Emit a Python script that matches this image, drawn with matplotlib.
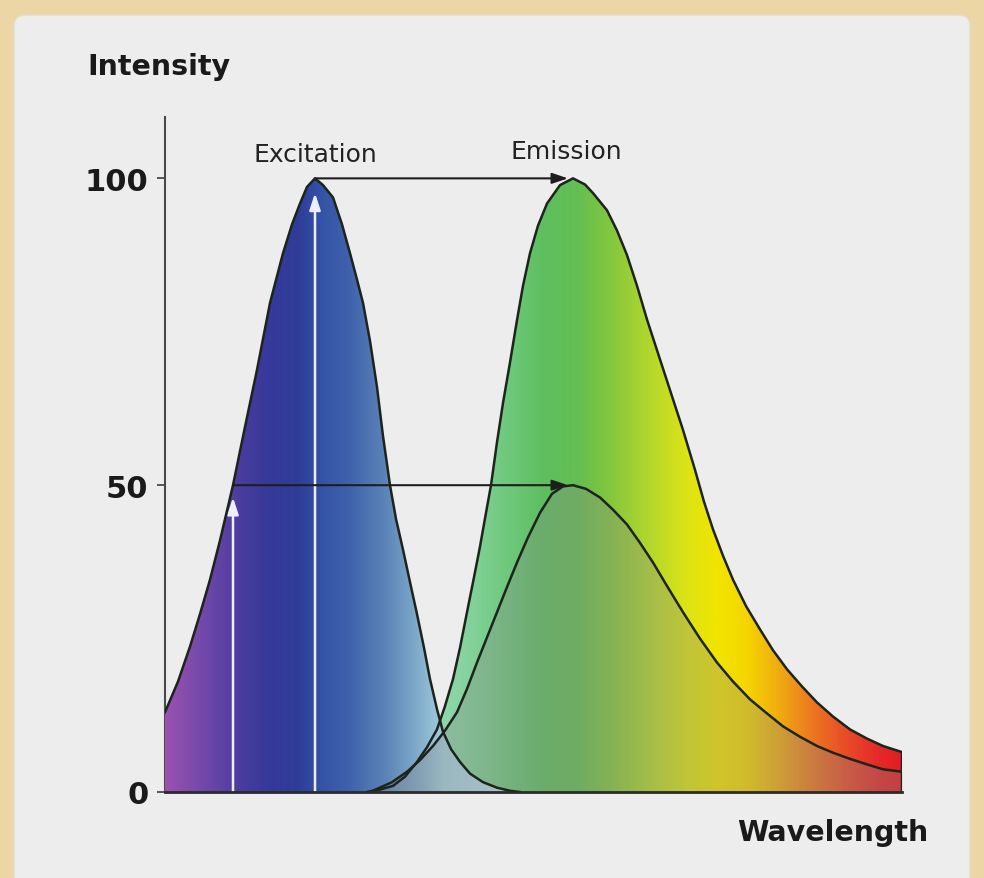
import numpy as np
import matplotlib.pyplot as plt
from matplotlib.colors import LinearSegmentedColormap
from matplotlib.patches import Polygon, FancyBboxPatch

# curves (x: wavelength, arbitrary units; y: intensity)
exc_x = [0, 13, 25, 35, 45, 55, 68, 80, 92, 105, 118, 127, 135, 142, 150, 158,
         168, 177, 185, 192, 198, 205, 212, 218, 225, 231, 238, 245, 252, 259,
         265, 272, 278, 286, 295, 305, 318, 332, 345, 355]
exc_y = [13.0, 18.0, 23.7, 29.0, 34.6, 41.0, 50.0, 59.5, 68.8, 79.7, 87.8, 92.5,
         95.9, 98.6, 100.0, 98.9, 96.9, 92.5, 87.8, 83.5, 79.7, 73.5, 66.0, 58.0,
         50.0, 44.5, 39.5, 34.2, 29.0, 23.5, 18.4, 13.5, 9.8, 7.0, 4.9, 3.0, 1.6,
         0.7, 0.2, 0.0]

em_x = [202, 215, 228, 240, 252, 262, 272, 280, 288, 295, 302, 309, 315, 321,
        326, 332, 338, 345, 352, 358, 365, 373, 382, 395, 408, 420, 428, 442,
        452, 462, 472, 482, 493, 505, 518, 530, 539, 548, 558, 568, 581, 595,
        608, 622, 637, 652, 668, 685, 702, 718, 737]
em_y = [0.0, 0.4, 1.0, 2.5, 4.9, 7.3, 10.2, 14.0, 18.4, 23.5, 29.3, 35.0, 40.0,
        45.5, 50.0, 57.0, 63.4, 70.0, 76.9, 82.5, 87.8, 92.3, 95.9, 98.9, 100.0,
        99.0, 97.6, 94.8, 91.5, 87.5, 82.5, 77.0, 71.5, 65.5, 59.0, 52.5, 47.3,
        42.8, 38.5, 34.6, 30.3, 26.5, 23.1, 20.0, 17.2, 14.6, 12.3, 10.2, 8.7,
        7.5, 6.5]

half_x = [205, 212, 227, 242, 255, 268, 280, 292, 302, 312, 322, 332, 342, 352,
          363, 375, 387, 398, 408, 421, 435, 448, 462, 475, 488, 503, 518, 535,
          552, 568, 585, 602, 618, 635, 652, 668, 685, 702, 718, 737]
half_y = [0.0, 0.5, 1.6, 3.3, 5.2, 7.5, 10.0, 13.0, 16.8, 21.1, 25.2, 29.3, 33.4,
          37.4, 41.5, 45.5, 48.6, 49.8, 50.0, 49.4, 48.0, 46.0, 43.6, 40.6, 37.4,
          33.3, 29.3, 25.0, 21.1, 18.0, 15.1, 12.8, 10.7, 9.0, 7.5, 6.4, 5.4, 4.5,
          3.7, 3.3]

yticks = [0, 50, 100]
ytick_labels = ['0', '50', '100']

exc_colors = [(0, '#9a52b0'), (45, '#6a46a8'), (75, '#4a3c9e'), (103, '#36399a'),
              (133, '#2e3d98'), (155, '#3352a6'), (185, '#4062ac'), (222, '#5c86b8'),
              (252, '#7faacb'), (280, '#a5d0de'), (355, '#bde0e8')]
em_colors = [(202, '#aee2cc'), (245, '#9cdcba'), (295, '#88d4a2'), (340, '#70c97e'),
             (376, '#5ebf60'), (413, '#64be52'), (442, '#80c640'), (486, '#b4d82c'),
             (523, '#dde414'), (553, '#f2e400'), (582, '#f5d600'), (612, '#f0b010'),
             (648, '#ec7820'), (685, '#e84828'), (715, '#e42a28'), (737, '#e01e24')]


def grad_cmap(stops, lo, hi):
    return LinearSegmentedColormap.from_list(
        'g', [((p - lo) / (hi - lo), c) for p, c in stops])


def gradient_fill(ax, xs, ys, stops, zorder):
    lo, hi = xs[0], xs[-1]
    verts = [(lo, 0)] + list(zip(xs, ys)) + [(hi, 0)]
    clip = Polygon(verts, closed=True, facecolor='none', edgecolor='none')
    ax.add_patch(clip)
    img = np.linspace(0, 1, 600).reshape(1, -1)
    im = ax.imshow(img, cmap=grad_cmap(stops, lo, hi), aspect='auto',
                   extent=(lo, hi, 0, 110), origin='lower', zorder=zorder,
                   interpolation='bilinear')
    im.set_clip_path(clip)


fig = plt.figure(figsize=(9.84, 8.79), dpi=100)
fig.patch.set_facecolor('#ecd6a6')
panel = FancyBboxPatch((14 / 984, -0.05), (970 - 14) / 984, 1 - 16 / 879 + 0.05,
                       boxstyle='round,pad=0,rounding_size=0.012',
                       transform=fig.transFigure, facecolor='#ededed',
                       edgecolor='#e6dcc8', lw=1, zorder=-10)
fig.patches.append(panel)

ax = fig.add_axes([165 / 984, 86 / 879, (902 - 165) / 984, (793 - 118) / 879])
ax.set_facecolor('none')
ax.set_xlim(0, 737)
ax.set_ylim(0, 110)

gradient_fill(ax, em_x, em_y, em_colors, 2)
gradient_fill(ax, exc_x, exc_y, exc_colors, 3)
ax.fill_between(half_x, half_y, 0, color='#868686', alpha=0.32, lw=0, zorder=4)

line_kw = dict(color='#1c241c', lw=1.8, zorder=6, solid_joinstyle='round')
ax.plot(exc_x, exc_y, **line_kw)
ax.plot(em_x, em_y, **line_kw)
ax.plot(half_x, half_y, **line_kw)
ax.vlines(em_x[-1], 0, em_y[-1], color='#1c241c', lw=2.5, zorder=6)

# excitation / emission arrows
peak_exc = exc_x[int(np.argmax(exc_y))]
peak_em = em_x[int(np.argmax(em_y))]
half_exc = exc_x[exc_y.index(50.0)]
black = dict(arrowstyle='-|>,head_length=0.95,head_width=0.32', color='#1e1e1e',
             lw=1.5, shrinkA=0, shrinkB=0)
ax.annotate('', xy=(peak_em - 5, 100), xytext=(peak_exc, 100),
            arrowprops=black, zorder=7)
ax.annotate('', xy=(peak_em - 5, 50), xytext=(half_exc, 50),
            arrowprops=black, zorder=7)

white = dict(arrowstyle='-|>,head_length=1.0,head_width=0.33', color='#eeeeff',
             lw=1.8, shrinkA=0, shrinkB=0)
ax.annotate('', xy=(peak_exc, 97.6), xytext=(peak_exc, 0), arrowprops=white, zorder=5)
ax.annotate('', xy=(half_exc, 48.0), xytext=(half_exc, 0), arrowprops=white, zorder=5)

ax.text(peak_exc, 104, 'Excitation', ha='center', va='center', fontsize=18,
        color='#222222')
ax.text(peak_em - 7, 104.4, 'Emission', ha='center', va='center', fontsize=18,
        color='#222222')

for s in ['top', 'right']:
    ax.spines[s].set_visible(False)
ax.spines['left'].set_color('#4a4a4a')
ax.spines['left'].set_linewidth(1.5)
ax.spines['bottom'].set_color('#2a2a2a')
ax.spines['bottom'].set_linewidth(2)
ax.spines['bottom'].set_zorder(8)
ax.set_xticks([])
ax.set_yticks(yticks)
ax.set_yticklabels(ytick_labels, fontsize=22, fontweight='bold', color='#1a1a1a')
ax.tick_params(axis='y', length=6, width=1.3, color='#4a4a4a', pad=6)

fig.text(87 / 984, 1 - 67 / 879, 'Intensity', fontsize=20.5, fontweight='bold',
         va='center', ha='left', color='#1a1a1a')
fig.text(928 / 984, 1 - 833 / 879, 'Wavelength', fontsize=20.5, fontweight='bold',
         va='center', ha='right', color='#1a1a1a')

plt.savefig('out.png', dpi=100)
